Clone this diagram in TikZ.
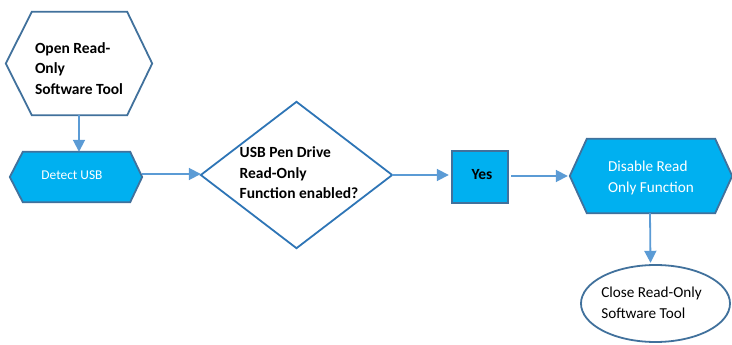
\documentclass[tikz,border=0pt]{standalone}
\usepackage{fontspec}
\setmainfont{Carlito}
\usetikzlibrary{calc,arrows.meta}
\definecolor{edgeblue}{HTML}{41719C}
\definecolor{diablue}{HTML}{2E75B6}
\definecolor{arrblue}{HTML}{5B9BD5}
\definecolor{cyanfill}{HTML}{00B0F0}
\tikzset{
  holder/.style={inner sep=0pt, draw=none, align=left},
  bigbold/.style={font=\bfseries\fontsize{15.5}{20.5}\selectfont},
  plain/.style={font=\fontsize{15.2}{21}\selectfont},
  outline/.style={draw=edgeblue, line width=1.8pt, line join=miter},
  conn/.style={draw=arrblue, line width=1.8pt, -{Triangle[length=12pt,width=12pt]}},
}
\begin{document}
\begin{tikzpicture}[x=1pt,y=-1pt]
\useasboundingbox (0,0) rectangle (732,345);
% shape holders
\node[holder, minimum width=146pt, minimum height=103pt] (open) at (79,63.5) {};
\node[holder, minimum width=132pt, minimum height=50pt] (detect) at (76,177) {};
\node[holder, minimum width=191pt, minimum height=146pt] (dia) at (296.5,175) {};
\node[holder, minimum width=56pt, minimum height=52pt] (yes) at (480,177) {};
\node[holder, minimum width=162pt, minimum height=74pt] (dis) at (651,176) {};
\node[holder, minimum width=149pt, minimum height=77pt] (close) at (655.5,303.5) {};

% outlines
\draw[outline, fill=white] (open.west) -- ($(open.north west)+(26,0)$) -- ($(open.north east)+(-25,0)$) -- (open.east) -- ($(open.south east)+(-25,0)$) -- ($(open.south west)+(26,0)$) -- cycle;
\draw[outline, fill=cyanfill] (detect.west) -- ($(detect.north west)+(13,0)$) -- ($(detect.north east)+(-12,0)$) -- (detect.east) -- ($(detect.south east)+(-12,0)$) -- ($(detect.south west)+(13,0)$) -- cycle;
\draw[draw=diablue, line width=1.8pt, fill=white] (dia.west) -- (dia.north) -- (dia.east) -- (dia.south) -- cycle;
\draw[outline, fill=cyanfill] (yes.north west) rectangle (yes.south east);
\draw[outline, fill=cyanfill] (dis.west) -- ($(dis.north west)+(17,0)$) -- ($(dis.north east)+(-17,0)$) -- (dis.east) -- ($(dis.south east)+(-17,0)$) -- ($(dis.south west)+(17,0)$) -- cycle;
\draw[outline, fill=white] (close.center) ellipse [x radius=74.5pt, y radius=38.5pt];

% texts
\node[holder, bigbold] (opent) at ($(open.center)+(0,5)$) {Open Read-\\Only\\Software Tool};
\node[holder, text=white, font=\fontsize{13.4}{15}\selectfont] (detectt) at ($(detect.center)+(-4,-1.5)$) {Detect USB};
\node[holder, bigbold] (diat) at ($(dia.center)+(2.5,-2)$) {USB Pen Drive\\Read-Only\\Function enabled?};
\node[holder, bigbold] (yest) at ($(yes.center)+(2,-2)$) {Yes};
\node[holder, plain, text=white] (dist) at ($(dis.center)+(0,2)$) {Disable Read\\Only Function};
\node[holder, plain] (closet) at ($(close.center)+(-4,-1)$) {Close Read-Only\\Software Tool};

% connectors
\draw[conn] (open.south) -- (open.south |- detect.north);
\draw[conn] ($(detect.east)+(0,-3)$) -- ($(dia.west)+(0,-1)$);
\draw[conn] (dia.east) -- ($(yes.west)+(-3,-2)$);
\draw[conn] ($(yes.east)+(3,-1)$) -- ($(dis.west)+(-2,0)$);
\draw[conn] ($(dis.south)+(-1,0)$) -- ($(close.north)+(-5,-2)$);
\end{tikzpicture}
\end{document}
